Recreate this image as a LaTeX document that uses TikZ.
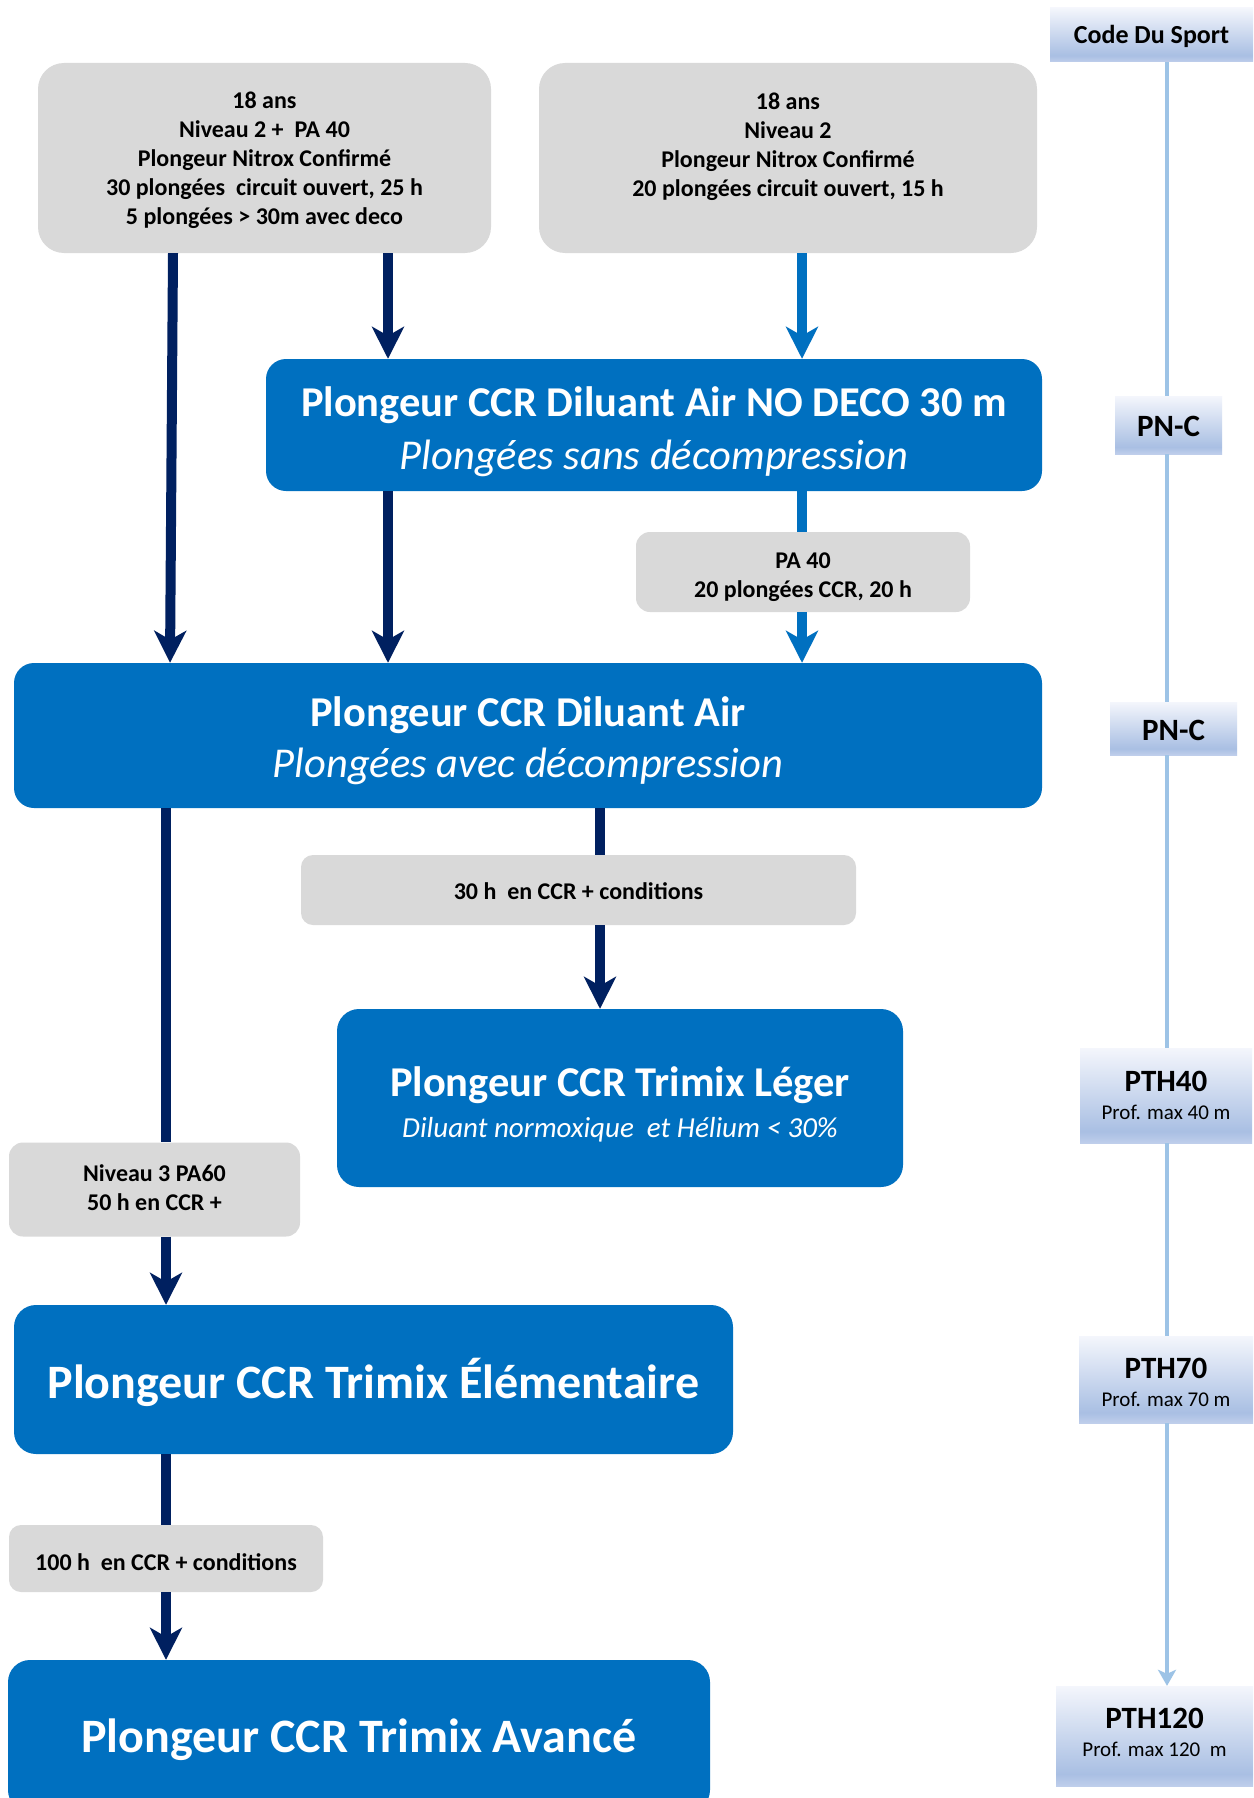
\documentclass[tikz,border=0pt]{standalone}
\usepackage{fontspec}
\setmainfont{Carlito}
\usetikzlibrary{arrows.meta}
\definecolor{boxblue}{HTML}{0070C0}
\definecolor{navy}{HTML}{002060}
\definecolor{boxgrey}{HTML}{D9D9D9}
\definecolor{lineblue}{HTML}{9DC3E6}
\definecolor{gradtop}{HTML}{F4F6FC}
\definecolor{gradmid}{HTML}{A9BFE3}
\definecolor{gradbot}{HTML}{BFCEEB}
\pgfdeclareverticalshading{sportshade}{100bp}{color(0bp)=(gradbot); color(25bp)=(gradbot); color(31bp)=(gradmid); color(75bp)=(gradtop); color(100bp)=(gradtop)}
\begin{document}
\begin{tikzpicture}[x=1pt,y=-1pt,
  bluebox/.style={rectangle, rounded corners=20pt, fill=boxblue, inner sep=0pt},
  greybox/.style={rectangle, rounded corners=14pt, fill=boxgrey, inner sep=0pt},
  levelbox/.style={rectangle, shade, shading=sportshade, inner sep=0pt},
  lbl/.style={align=center, inner sep=0pt},
  wlbl/.style={align=center, inner sep=0pt, text=white},
  glbl/.style={align=center, inner sep=0pt, font=\bfseries\fontsize{24}{29}\selectfont},
  darr/.style={draw=navy, line width=10pt, -{Stealth[length=32pt,width=32pt,inset=9pt]}},
  dline/.style={draw=navy, line width=10pt},
  barr/.style={draw=boxblue, line width=10pt, -{Stealth[length=32pt,width=32pt,inset=9pt]}},
  bline/.style={draw=boxblue, line width=10pt},
  larr/.style={draw=lineblue, line width=3.5pt, -{Stealth[length=16pt,width=18pt,inset=4pt]}},
  lline/.style={draw=lineblue, line width=3.5pt}
]
\useasboundingbox (0,0) rectangle (1253,1798);
\clip (0,0) rectangle (1253,1798);
\fill[white] (0,0) rectangle (1253,1798);

% boxes of the left/center column
\node[greybox, rounded corners=26pt, minimum width=453pt, minimum height=190pt] (tl) at (264.5,158) {};
\node[greybox, rounded corners=26pt, minimum width=498pt, minimum height=190pt] (tr) at (788,158) {};
\node[bluebox, minimum width=776pt, minimum height=132pt] (b1) at (654,425) {};
\node[greybox, minimum width=334pt, minimum height=80pt] (pa) at (803,572) {};
\node[bluebox, minimum width=1028pt, minimum height=145pt] (b2) at (528,735.5) {};
\node[greybox, rounded corners=12pt, minimum width=555pt, minimum height=70pt] (c30) at (578.5,890) {};
\node[bluebox, rounded corners=22pt, minimum width=566pt, minimum height=178pt] (leger) at (620,1098) {};
\node[greybox, minimum width=291pt, minimum height=94pt] (n3) at (154.5,1189.5) {};
\node[bluebox, rounded corners=22pt, minimum width=719pt, minimum height=149pt] (elem) at (373.5,1379.5) {};
\node[greybox, rounded corners=12pt, minimum width=314pt, minimum height=67pt] (c100) at (166,1558.5) {};
\node[bluebox, rounded corners=22pt, minimum width=702pt, minimum height=152pt] (av) at (359,1736) {};

% texts of the left/center column
\node[glbl] (tlt) at ([yshift=-2.5pt]tl.center)
  {18 ans\\Niveau 2 +\ \ PA 40\\Plongeur Nitrox Confirmé\\30 plongées\ \ circuit ouvert, 25 h\\5 plongées > 30m avec deco};
\node[glbl] (trt) at ([yshift=-1pt]tr.center)
  {18 ans\\Niveau 2\\Plongeur Nitrox Confirmé\\20 plongées circuit ouvert, 15 h\\\mbox{}};
\node[wlbl, font=\fontsize{42.5}{53}\selectfont] (b1t) at ([yshift=-7pt]b1.center)
  {\textbf{Plongeur CCR Diluant Air NO DECO 30 m}\\\textit{Plongées sans décompression}};
\node[glbl] (pat) at ([yshift=-5pt]pa.center) {PA 40\\20 plongées CCR, 20 h};
\node[wlbl, font=\fontsize{42.5}{51}\selectfont] (b2t) at ([yshift=-5pt]b2.center)
  {\textbf{Plongeur CCR Diluant Air}\\\textit{Plongées avec décompression}};
\node[glbl] (c30t) at ([yshift=-1pt]c30.center) {30 h\ \ en CCR + conditions};
\node[wlbl, font=\fontsize{42.5}{41}\selectfont] (legert) at ([yshift=-6pt]leger.center)
  {\textbf{Plongeur CCR Trimix Léger}\\{\itshape\fontsize{29}{35}\selectfont Diluant normoxique\ \ et Hélium < 30\%}};
\node[glbl] (n3t) at ([yshift=2pt]n3.center) {Niveau 3 PA60\\50 h en CCR +};
\node[wlbl, font=\bfseries\fontsize{48}{57}\selectfont] (elemt) at ([yshift=-2.5pt]elem.center) {Plongeur CCR Trimix Élémentaire};
\node[glbl] (c100t) at ([yshift=-3.5pt]c100.center) {100 h\ \ en CCR + conditions};
\node[wlbl, font=\bfseries\fontsize{48}{57}\selectfont] (avt) at ([yshift=-3.5pt]av.center) {Plongeur CCR Trimix Avancé};

% right column
\node[levelbox, minimum width=203pt, minimum height=54pt] (code) at (1151.5,35) {};
\node[levelbox, minimum width=107pt, minimum height=58pt] (pn1) at (1168.5,425) {};
\node[levelbox, minimum width=127pt, minimum height=53pt] (pn2) at (1173.5,728.5) {};
\node[levelbox, minimum width=172pt, minimum height=95pt] (p40) at (1166,1095.5) {};
\node[levelbox, minimum width=174pt, minimum height=87pt] (p70) at (1166,1379.5) {};
\node[levelbox, minimum width=197pt, minimum height=100pt] (p120) at (1154.5,1736) {};

\node[lbl, font=\bfseries\fontsize{26}{30}\selectfont] (codet) at ([yshift=-1pt]code.center) {Code Du Sport};
\node[lbl, font=\bfseries\fontsize{31}{36}\selectfont] (pn1t) at ([yshift=-1pt]pn1.center) {PN-C};
\node[lbl, font=\bfseries\fontsize{31}{36}\selectfont] (pn2t) at ([yshift=-2pt]pn2.center) {PN-C};
\node[lbl, font=\fontsize{21}{28}\selectfont] (p40t) at (p40.center)
  {{\bfseries\fontsize{31}{28}\selectfont PTH40}\\Prof. max 40 m};
\node[lbl, font=\fontsize{21}{28}\selectfont] (p70t) at ([yshift=-2.5pt]p70.center)
  {{\bfseries\fontsize{31}{28}\selectfont PTH70}\\Prof. max 70 m};
\node[lbl, font=\fontsize{21}{28}\selectfont] (p120t) at ([yshift=4pt]p120.center)
  {{\bfseries\fontsize{31}{28}\selectfont PTH120}\\Prof. max 120\ \ m};

% connector x positions
\coordinate (xa) at (173,0);
\coordinate (xa2) at (170,0);
\coordinate (xb) at (388,0);
\coordinate (xc) at (802,0);
\coordinate (xd) at (600,0);
\coordinate (xe) at (166,0);
\coordinate (xl) at (1167,0);

% right column line
\draw[lline] (code.south -| xl) -- (pn1.north -| xl);
\draw[lline] (pn1.south -| xl) -- (pn2.north -| xl);
\draw[lline] (pn2.south -| xl) -- (p40.north -| xl);
\draw[lline] (p40.south -| xl) -- (p70.north -| xl);
\draw[larr] (p70.south -| xl) -- (p120.north -| xl);

% connectors
\draw[darr] (tl.south -| xa) -- (b2.north -| xa2);
\draw[darr] (tl.south -| xb) -- (b1.north -| xb);
\draw[darr] (b1.south -| xb) -- (b2.north -| xb);
\draw[barr] (tr.south -| xc) -- (b1.north -| xc);
\draw[bline] (b1.south -| xc) -- (pa.north -| xc);
\draw[barr] (pa.south -| xc) -- (b2.north -| xc);
\draw[dline] (b2.south -| xd) -- (c30.north -| xd);
\draw[darr] (c30.south -| xd) -- (leger.north -| xd);
\draw[dline] (b2.south -| xe) -- (n3.north -| xe);
\draw[darr] (n3.south -| xe) -- (elem.north -| xe);
\draw[dline] (elem.south -| xe) -- (c100.north -| xe);
\draw[darr] (c100.south -| xe) -- (av.north -| xe);
\end{tikzpicture}
\end{document}
